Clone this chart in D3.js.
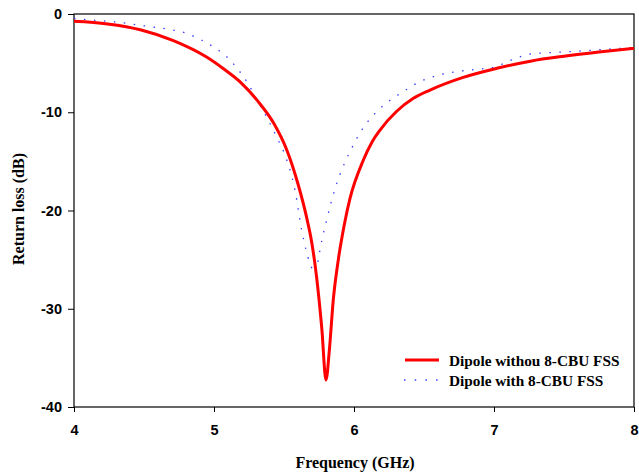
<!DOCTYPE html>
<html><head><meta charset="utf-8">
<script src="https://cdn.jsdelivr.net/npm/d3@7"></script>
<style>body{margin:0;background:#fff}svg{display:block}</style>
</head><body>
<script>
const redFreq = [4.0,4.24,4.48,4.71,4.95,5.07,5.19,5.31,5.43,5.52,5.6,5.66,5.70,5.733,5.77,5.80,5.824,5.852,5.888,5.93,5.971,6.067,6.13,6.186,6.305,6.424,6.543,6.78,7.02,7.26,7.5,7.75,8.0];
const redVals = [-0.75,-1.02,-1.63,-2.71,-4.41,-5.6,-6.96,-8.82,-11.2,-13.84,-17.3,-20.6,-23.4,-26.8,-32.0,-37.25,-34.2,-29.1,-25.0,-21.5,-18.8,-14.86,-13.0,-11.81,-9.9,-8.58,-7.74,-6.45,-5.53,-4.8,-4.3,-3.87,-3.5];
const blueFreq = [4.0,4.07,4.29,4.5,4.69,4.8,4.88,5.0,5.095,5.155,5.238,5.31,5.39,5.45,5.5,5.578,5.626,5.686,5.725,5.745,5.757,5.805,5.864,5.912,5.983,6.055,6.15,6.245,6.352,6.471,6.59,6.733,6.876,6.995,7.126,7.257,7.388,7.53,7.73,8.0];
const blueVals = [-0.45,-0.55,-0.8,-1.2,-1.6,-1.95,-2.44,-3.39,-4.41,-5.36,-6.96,-8.8,-10.86,-12.6,-14.1,-17.91,-21.98,-25.4,-26.4,-25.0,-24.0,-20.97,-17.8,-15.88,-13.67,-11.81,-10.11,-8.92,-7.9,-6.89,-6.28,-5.87,-5.63,-5.43,-4.68,-4.07,-3.94,-3.84,-3.66,-3.4];
const xTicks = [4,5,6,7,8];
const yTicks = [0,-10,-20,-30,-40];
const seriesNames = ["Dipole withou 8-CBU FSS","Dipole with 8-CBU FSS"];
const xTitle = "Frequency (GHz)";
const yTitle = "Return loss (dB)";

const W = 639, H = 472;
const L = 74, R = 634, T = 14, B = 407;
const svg = d3.select("body").append("svg").attr("width", W).attr("height", H);
const x = d3.scaleLinear().domain([4,8]).range([L,R]);
const y = d3.scaleLinear().domain([-40,0]).range([B,T]);

const tickFont = "'Liberation Sans', Arial, sans-serif";
const serif = "'Liberation Serif', 'Times New Roman', serif";
const fmt = d => String(d);

const xa = svg.append("g").attr("transform",`translate(0,${B})`)
  .call(d3.axisBottom(x).tickValues(xTicks).tickFormat(fmt).tickSize(5).tickPadding(13));
const ya = svg.append("g").attr("transform",`translate(${L},0)`)
  .call(d3.axisLeft(y).tickValues(yTicks).tickFormat(fmt).tickSize(6).tickPadding(6));
[xa,ya].forEach(g=>{
  g.select(".domain").remove();
  g.selectAll("line").attr("stroke","#000").attr("stroke-width",1);
  g.selectAll("text").attr("font-family",tickFont).attr("font-weight","bold").attr("font-size",14.5).attr("fill","#000");
});
svg.append("rect").attr("x",L).attr("y",T).attr("width",R-L).attr("height",B-T)
  .attr("fill","none").attr("stroke","#000").attr("stroke-width",1.2);

const line = d3.line().x(d=>x(d[0])).y(d=>y(d[1])).curve(d3.curveMonotoneX);
const blue = blueFreq.map((f,i)=>[f,blueVals[i]]);
const red = redFreq.map((f,i)=>[f,redVals[i]]);
svg.append("path").datum(blue).attr("d",line).attr("fill","none")
  .attr("stroke","#3a3aff").attr("stroke-width",1.3).attr("stroke-dasharray","1.5 8.5");
svg.append("path").datum(red).attr("d",line).attr("fill","none")
  .attr("stroke","#ff0000").attr("stroke-width",3);

// legend
const lg = svg.append("g");
lg.append("line").attr("x1",405).attr("x2",439).attr("y1",360).attr("y2",360).attr("stroke","#ff0000").attr("stroke-width",3);
lg.append("line").attr("x1",404).attr("x2",440).attr("y1",380).attr("y2",380).attr("stroke","#3a3aff").attr("stroke-width",1.3).attr("stroke-dasharray","1.5 9.2");
seriesNames.forEach((n,i)=>{
  lg.append("text").attr("x",449).attr("y",366+i*20).text(n)
    .attr("font-family",serif).attr("font-weight","bold").attr("font-size",15.3).attr("fill","#000");
});

svg.append("text").attr("x",355).attr("y",468).attr("text-anchor","middle").text(xTitle)
  .attr("font-family",serif).attr("font-weight","bold").attr("font-size",16);
svg.append("text").attr("transform",`translate(24,209) rotate(-90)`).attr("text-anchor","middle").text(yTitle)
  .attr("font-family",serif).attr("font-weight","bold").attr("font-size",16);
</script>
</body></html>
